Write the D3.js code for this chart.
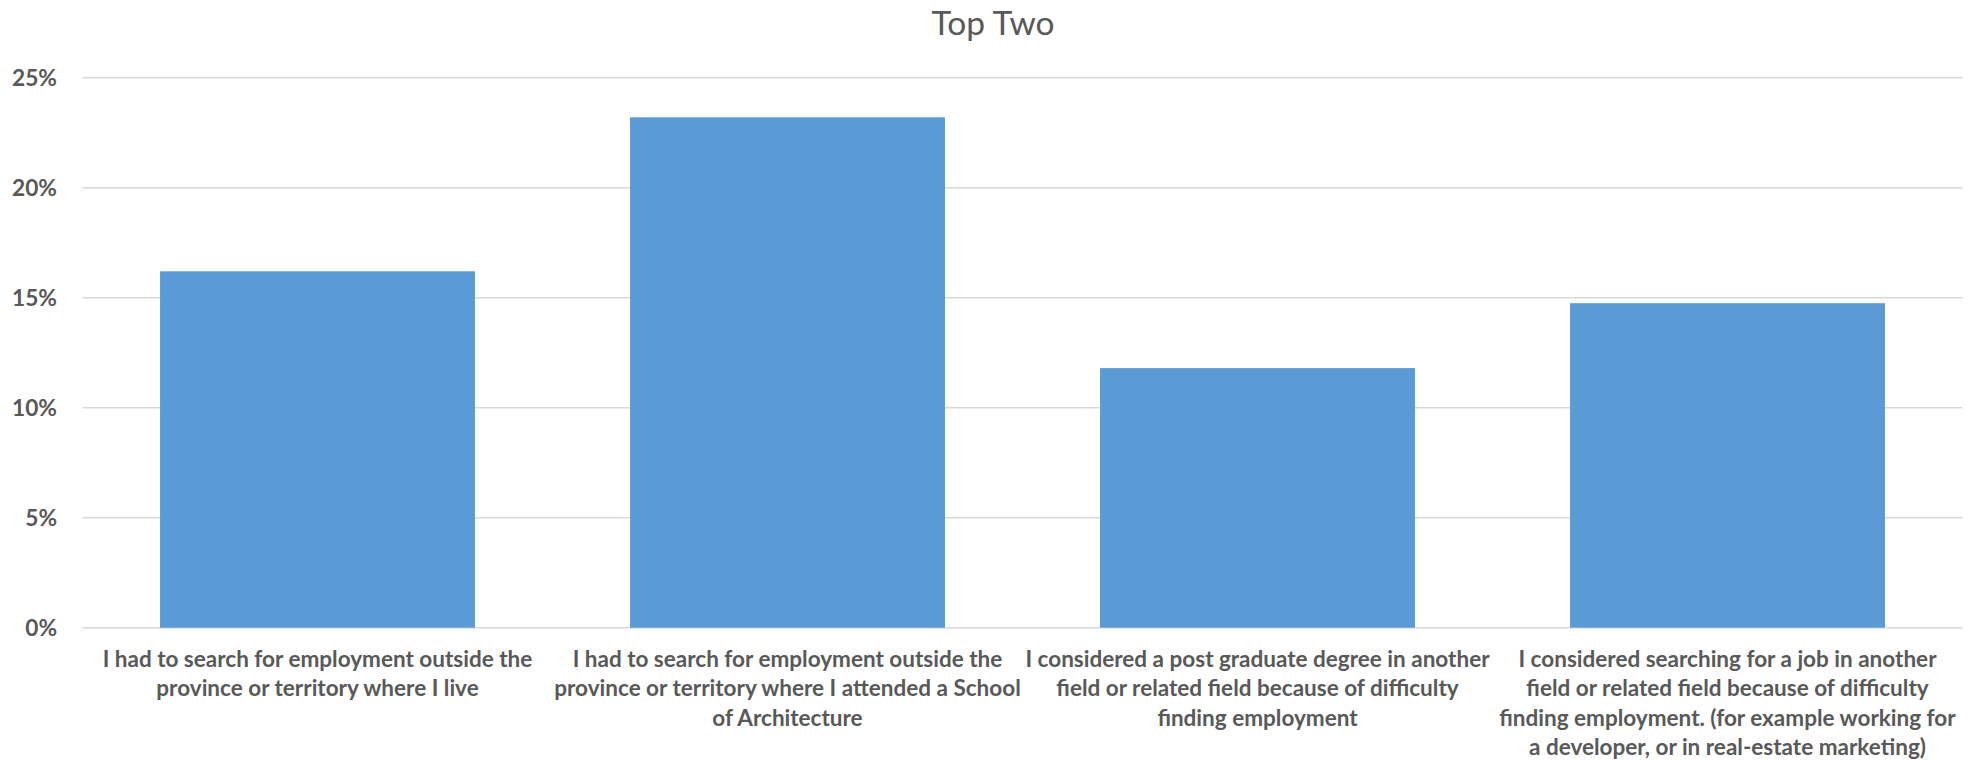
<!DOCTYPE html>
<html>
<head>
<meta charset="utf-8">
<script src="https://cdn.jsdelivr.net/npm/d3@7/dist/d3.min.js"></script>
<style>
  html, body { margin: 0; padding: 0; background: #ffffff; }
  svg { display: block; }
</style>
</head>
<body>
<svg id="chart" width="1980" height="760"></svg>
<script>
// ---- data ----
const title = "Top Two";
const categories = [
  ["I had to search for employment outside the", "province or territory where I live"],
  ["I had to search for employment outside the", "province or territory where I attended a School", "of Architecture"],
  ["I considered a post graduate degree in another", "field or related field because of difficulty", "finding employment"],
  ["I considered searching for a job in another", "field or related field because of difficulty", "finding employment. (for example working for", "a developer, or in real-estate marketing)"]
];
const values = [0.162, 0.232, 0.118, 0.1475];
const yTicks = [0, 0.05, 0.10, 0.15, 0.20, 0.25];

// ---- layout ----
const W = 1980, H = 760;
const plot = { left: 82.5, right: 1962.5, top: 77.7, bottom: 627.7 };
const FONT = "Lato, 'Open Sans', sans-serif";
const TEXT = "#595959";
const GRID = "#d9d9d9";
const BAR = "#5b9bd5";

const svg = d3.select("#chart");

function fitSize(text, weight, target, base) {
  const t = svg.append("text").attr("font-family", FONT).attr("font-weight", weight)
    .attr("font-size", base).text(text);
  const w = t.node().getComputedTextLength();
  t.remove();
  return base * target / w;
}

const catSize = fitSize(categories[0][0], "bold", 430, 24);
const tickSize = fitSize("25%", "bold", 45, 24);
const titleSize = fitSize(title, "normal", 123, 32);

const x = d3.scaleBand()
  .domain(d3.range(categories.length))
  .range([plot.left, plot.right])
  .paddingInner(0.33)
  .paddingOuter(0.165);

const y = d3.scaleLinear().domain([0, 0.25]).range([plot.bottom, plot.top]);

// gridlines
svg.append("g").selectAll("line").data(yTicks).join("line")
  .attr("x1", plot.left).attr("x2", plot.right)
  .attr("y1", d => y(d)).attr("y2", d => y(d))
  .attr("stroke", GRID).attr("stroke-width", 1.5);

// y axis labels
const yAxis = d3.axisLeft(y).tickValues(yTicks).tickFormat(d3.format(".0%")).tickSize(0).tickPadding(0);
const ya = svg.append("g").attr("transform", `translate(57,0)`).call(yAxis);
ya.select(".domain").remove();
ya.selectAll("text")
  .attr("font-family", FONT).attr("font-weight", "bold")
  .attr("font-size", tickSize).attr("fill", TEXT)
  .attr("dy", "0.36em");

// bars
svg.append("g").selectAll("rect").data(values).join("rect")
  .attr("x", (d, i) => x(i))
  .attr("width", x.bandwidth())
  .attr("y", d => y(d))
  .attr("height", d => y(0) - y(d))
  .attr("fill", BAR);

// category labels
const lineH = 29.5;
const cat = svg.append("g").selectAll("text").data(categories).join("text")
  .attr("x", (d, i) => x(i) + x.bandwidth() / 2)
  .attr("y", 666.5)
  .attr("text-anchor", "middle")
  .attr("font-family", FONT).attr("font-weight", "bold")
  .attr("font-size", catSize).attr("fill", TEXT);
cat.each(function(lines) {
  const t = d3.select(this);
  const x0 = t.attr("x");
  lines.forEach((ln, j) => {
    t.append("tspan").attr("x", x0).attr("dy", j === 0 ? 0 : lineH).text(ln);
  });
});

// title
svg.append("text")
  .attr("x", 993).attr("y", 35)
  .attr("text-anchor", "middle")
  .attr("font-family", FONT)
  .attr("font-size", titleSize).attr("fill", TEXT)
  .text(title);
</script>
</body>
</html>
